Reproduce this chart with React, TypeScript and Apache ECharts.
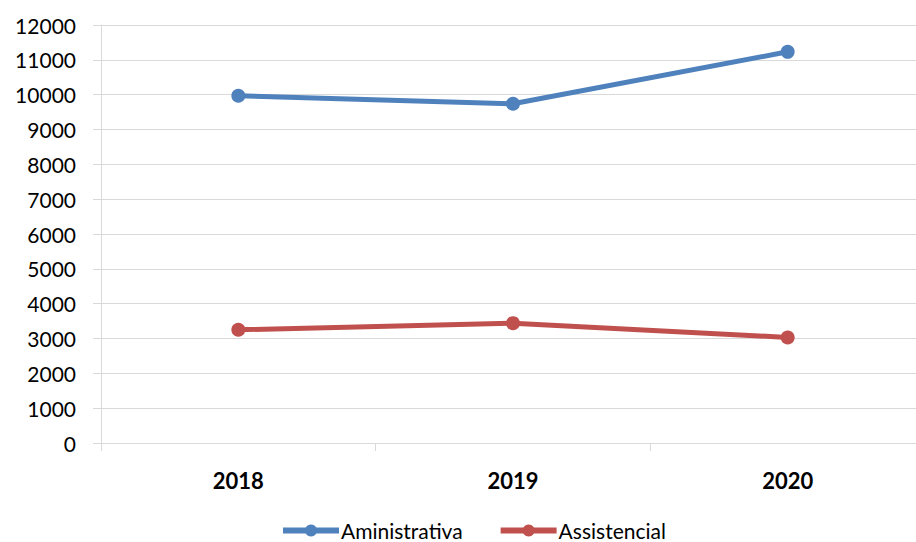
import React, { useEffect, useRef } from "react";
import * as echarts from "echarts";

const categories = ["2018", "2019", "2020"];
const administrativa = [9970, 9740, 11230];
const assistencial = [3250, 3440, 3030];
const seriesNames = ["Aministrativa", "Assistencial"];

export default function App() {
  const ref = useRef<HTMLDivElement>(null);
  useEffect(() => {
    if (!ref.current) return;
    const chart = echarts.init(ref.current, null, { renderer: "svg" });
    const font = "Lato, 'Open Sans', sans-serif";
    chart.setOption({
      animation: false,
      backgroundColor: "#ffffff",
      grid: { left: 101, top: 25, bottom: 99, right: 0, containLabel: false },
      legend: {
        data: seriesNames,
        top: 520,
        left: 280,
        padding: 0,
        itemWidth: 56,
        itemHeight: 15,
        itemGap: 35,
        lineStyle: { width: 6 },
        textStyle: {
          fontFamily: font,
          fontSize: 21,
          lineHeight: 21,
          color: "#000000",
          padding: [0, 0, 0, -3],
        },
      },
      xAxis: {
        type: "category",
        data: categories,
        boundaryGap: true,
        axisLine: { lineStyle: { color: "#d9d9d9", width: 1 } },
        axisTick: { show: true, length: 8, lineStyle: { color: "#d9d9d9" } },
        axisLabel: {
          fontFamily: font,
          fontSize: 22,
          fontWeight: "bold",
          color: "#000000",
          margin: 26,
        },
      },
      yAxis: {
        type: "value",
        min: 0,
        max: 12000,
        interval: 1000,
        axisLine: { show: true, lineStyle: { color: "#d9d9d9", width: 1 } },
        axisTick: { show: true, length: 8, lineStyle: { color: "#d9d9d9" } },
        splitLine: { show: true, lineStyle: { color: "#d9d9d9", width: 1 } },
        axisLabel: {
          fontFamily: font,
          fontSize: 21,
          color: "#000000",
          margin: 25,
          formatter: (v: number) => String(v),
        },
      },
      series: [
        {
          name: seriesNames[0],
          type: "line",
          data: administrativa,
          symbol: "circle",
          symbolSize: 14,
          lineStyle: { width: 5, color: "#4F81BD" },
          itemStyle: { color: "#4F81BD" },
        },
        {
          name: seriesNames[1],
          type: "line",
          data: assistencial,
          symbol: "circle",
          symbolSize: 14,
          lineStyle: { width: 5, color: "#C0504D" },
          itemStyle: { color: "#C0504D" },
        },
      ],
    });
    return () => chart.dispose();
  }, []);
  return (
    <div style={{ position: "fixed", left: 0, top: 0, width: 916, height: 542, overflow: "hidden" }}>
      <div ref={ref} style={{ position: "absolute", left: 0, top: 0, width: 925, height: 542 }} />
    </div>
  );
}
